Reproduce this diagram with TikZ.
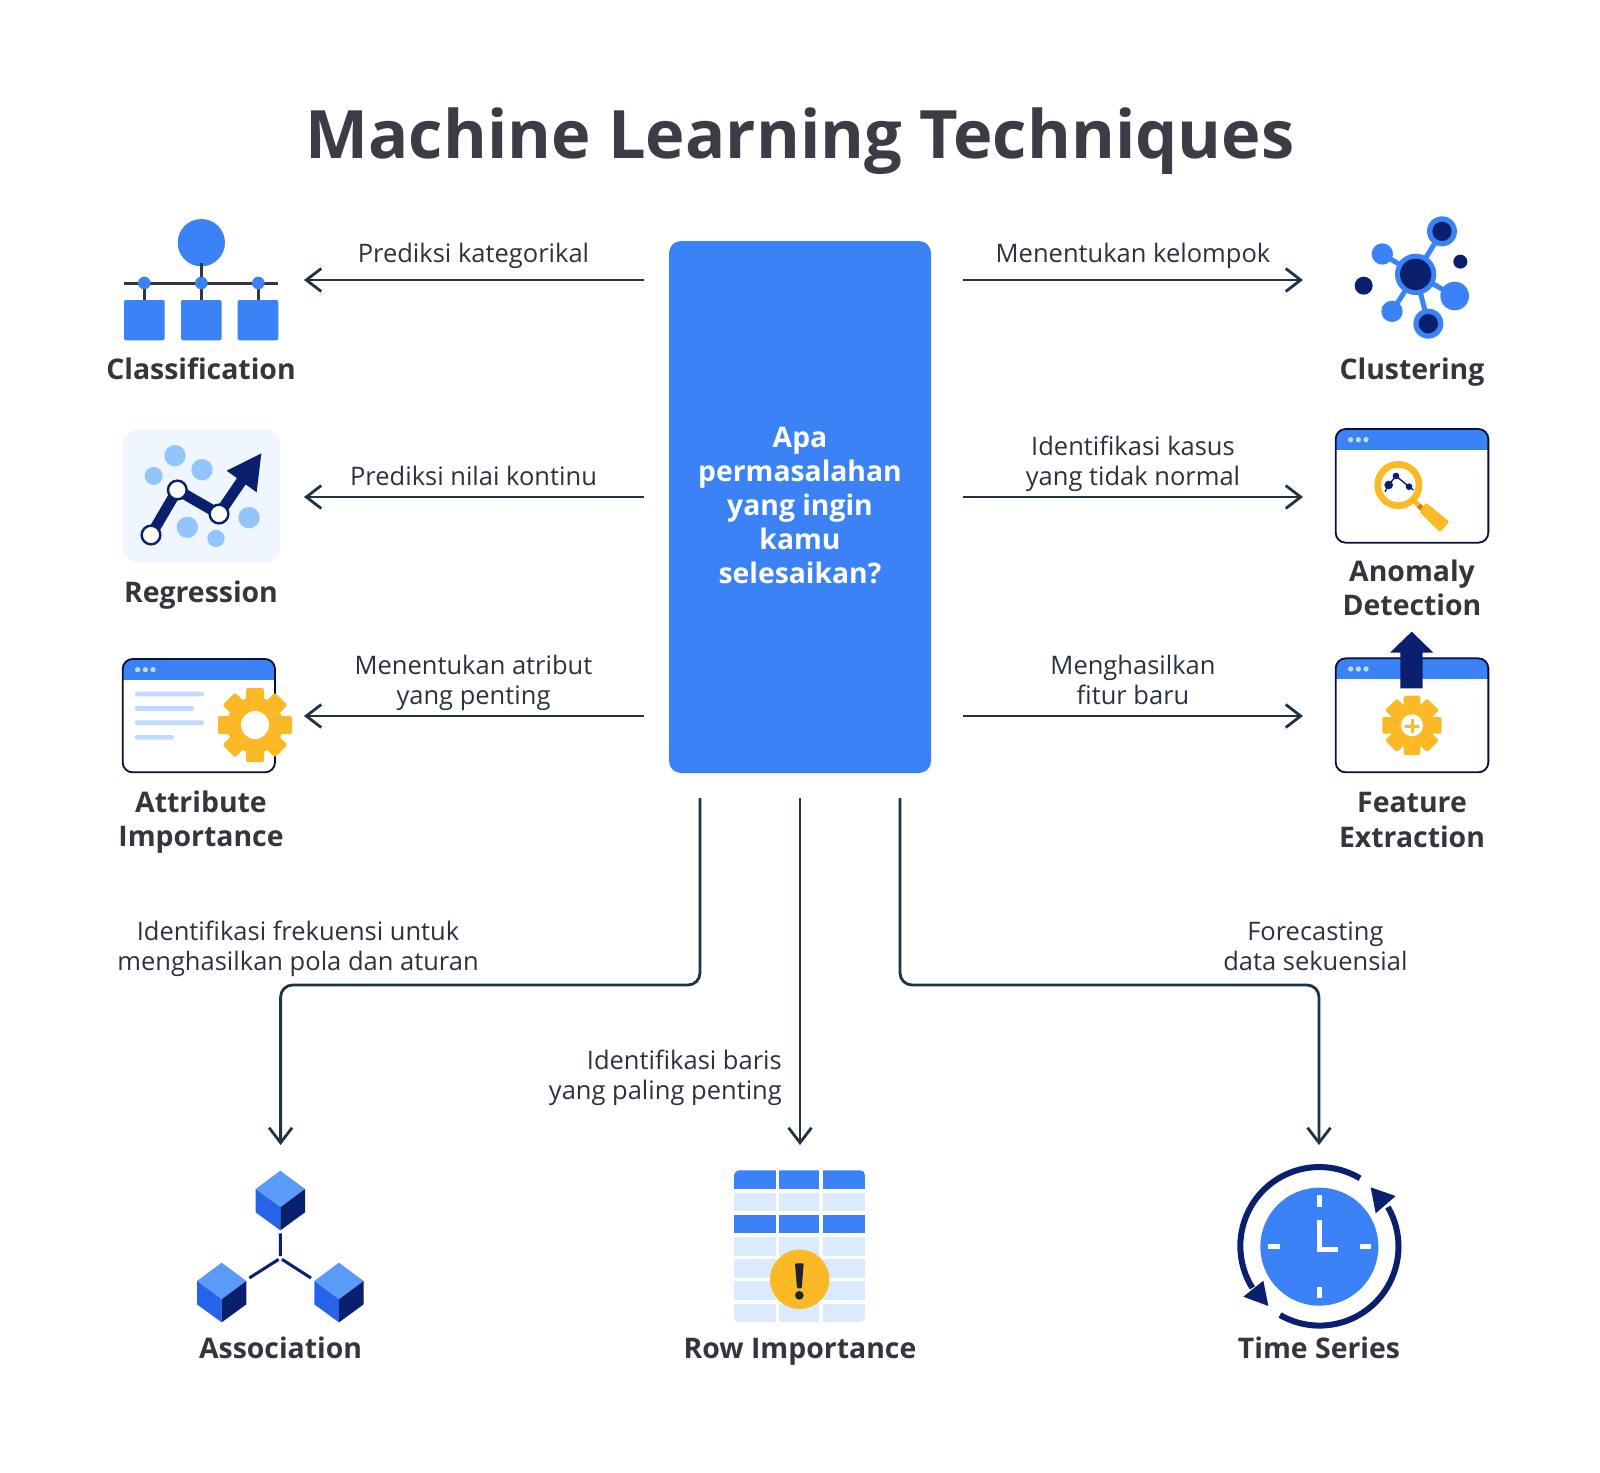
\documentclass[tikz,border=0pt]{standalone}
\usepackage{fontspec}
\setmainfont{Open Sans}
\usetikzlibrary{arrows.meta}
\definecolor{titleink}{HTML}{3A3D45}
\definecolor{labelink}{HTML}{33363D}
\definecolor{textink}{HTML}{2B3240}
\definecolor{connink}{HTML}{1F3347}
\definecolor{mainblue}{HTML}{3B82F6}
\definecolor{lightface}{HTML}{5B9BF8}
\definecolor{midface}{HTML}{2563EB}
\definecolor{navy}{HTML}{0A1F6E}
\definecolor{gearyellow}{HTML}{FBB925}
\definecolor{neckorange}{HTML}{D97706}
\definecolor{softblue}{HTML}{93C5FD}
\definecolor{paleblue}{HTML}{EFF6FF}
\definecolor{tablepale}{HTML}{DBEAFE}
\definecolor{barblue}{HTML}{BFDBFE}
\newcommand{\gearicon}[5]{
  \begin{scope}[shift={#1}]
    \fill[gearyellow] (0,0) circle[radius=#3];
    \foreach \a in {0,45,...,315}
      \fill[gearyellow,rounded corners=1.5pt,rotate=\a] (-#4,0) rectangle (#4,#2);
    \fill[white] (0,0) circle[radius=#5];
  \end{scope}
}
\newcommand{\appwindow}[4]{
  \begin{scope}
    \clip[rounded corners=10pt] (#1,#2) rectangle (#3,#4);
    \fill[white] (#1,#2) rectangle (#3,#4);
    \fill[mainblue] (#1,#2) rectangle (#3,#2+63);
  \end{scope}
  \draw[navy!50!black,line width=1.8pt,rounded corners=10pt] (#1,#2) rectangle (#3,#4);
  \foreach \d in {45,68,91}
    \fill[barblue] (#1+\d,#2+32) circle[radius=8];
}
\newcommand{\cubeicon}[2]{
  \begin{scope}[shift={(#1,#2)}]
    \fill[lightface] (301,62) -- (375,117) -- (301,172) -- (227,117) -- cycle;
    \fill[midface] (227,117) -- (301,172) -- (301,241) -- (227,187) -- cycle;
    \fill[navy] (375,117) -- (301,172) -- (301,241) -- (375,187) -- cycle;
  \end{scope}
}
\begin{document}
\begin{tikzpicture}[
    x=1pt, y=-1pt,
    zoomed/.style={shift={#1},scale=1/3},
    titletext/.style={font=\fontsize{66.8}{76}\selectfont\bfseries, text=titleink},
    techlabel/.style={align=center, inner sep=0pt, font=\fontsize{28.4}{34.2}\selectfont\bfseries, text=labelink},
    conntext/.style={align=center, inner sep=0pt, font=\fontsize{25.5}{30.2}\selectfont, text=textink},
    probbox/.style={rectangle, fill=mainblue, rounded corners=12pt, minimum width=262pt, minimum height=532pt, inner sep=0pt},
    probtext/.style={align=center, inner sep=0pt, text=white, font=\fontsize{28.3}{34}\selectfont\bfseries},
    conn/.style={draw=connink, line width=2.8pt, -{Straight Barb[length=15pt,width=23pt,line width=2.8pt]}},
    gapped/.style={shorten <=25pt}
]
\useasboundingbox (0,0) rectangle (1600,1472);
\fill[white] (0,0) rectangle (1600,1472);

\node[titletext] (title) at (800,141) {Machine Learning Techniques};
\node[probbox] (prob) at (800,507) {};
\node[probtext] (ask) at (800,505.5) {Apa\\permasalahan\\yang ingin\\kamu\\selesaikan?};

\coordinate (classend) at (304,280);
\coordinate (regrend) at (304,497);
\coordinate (attrend) at (304,716);
\coordinate (clustend) at (1303,280);
\coordinate (anomend) at (1303,497);
\coordinate (featend) at (1303,716);
\coordinate (assocbend) at (280.6,985);
\coordinate (assocend) at (280.6,1145);
\coordinate (rowend) at (800,1145);
\coordinate (timebend) at (1319,985);
\coordinate (timeend) at (1319,1145);

\draw[conn,gapped] (prob.west |- classend) -- (classend);
\draw[conn,gapped] (prob.west |- regrend) -- (regrend);
\draw[conn,gapped] (prob.west |- attrend) -- (attrend);
\draw[conn,shorten <=32pt] (prob.east |- clustend) -- (clustend);
\draw[conn,shorten <=32pt] (prob.east |- anomend) -- (anomend);
\draw[conn,shorten <=32pt] (prob.east |- featend) -- (featend);
\draw[conn,gapped,rounded corners=12pt] ([xshift=-100pt]prob.south) |- (assocbend) -- (assocend);
\draw[conn,gapped] (prob.south) -- (rowend);
\draw[conn,gapped,rounded corners=12pt] ([xshift=100pt]prob.south) |- (timebend) -- (timeend);

\node[conntext] (predcat) at (473.5,256) {Prediksi kategorikal};
\node[conntext] (prednum) at (473.5,476) {Prediksi nilai kontinu};
\node[conntext] (findattr) at (473.5,683) {Menentukan atribut\\yang penting};
\node[conntext] (findgroup) at (1133,256) {Menentukan kelompok};
\node[conntext] (findcase) at (1133,464) {Identifikasi kasus\\yang tidak normal};
\node[conntext] (makefeat) at (1133,680) {Menghasilkan\\fitur baru};
\node[conntext] (findfreq) at (298,949) {Identifikasi frekuensi untuk\\menghasilkan pola dan aturan};
\node[conntext, anchor=east, align=right] (findrow) at (782,1078) {Identifikasi baris\\yang paling penting};
\node[conntext] (forecast) at (1315.4,946) {Forecasting\\data sekuensial};

\begin{scope}[zoomed={(100,200)}]
  \fill[mainblue] (304,128) circle[radius=71];
  \draw[labelink,line width=3pt] (72,249) -- (535,249);
  \foreach \x in {133,304,475} {
    \draw[labelink,line width=3pt] (\x,249) -- (\x,310);
    \fill[mainblue] (\x,249) circle[radius=19];
  }
  \draw[labelink,line width=3pt] (304,190) -- (304,232);
  \foreach \x in {72,243,413}
    \fill[mainblue,rounded corners=2pt] (\x,300) rectangle (\x+122,421);
  \fill[paleblue,rounded corners=16pt] (68,688) rectangle (540,1088);
  \foreach \x/\y/\r in {225/767/32,161/828/27,306/809/32,262/982/32,348/1015/26,447/953/32}
    \fill[softblue] (\x,\y) circle[radius=\r];
  \draw[navy,line width=10.7pt] (153,1005) -- (232,870) -- (357,942) -- (430,835);
  \fill[navy] (484,760) -- (380,812) -- (470,877) -- cycle;
  \foreach \x/\y in {153/1005,232/870,357/942}
    \draw[navy,fill=white,line width=2.4pt] (\x,\y) circle[radius=28];
\end{scope}
\node[techlabel] (classlabel) at (201,369) {Classification};
\node[techlabel] (regrlabel) at (201,595) {Regression};

\begin{scope}[zoomed={(100,640)}]
  \appwindow{68}{57}{525}{397}
  \foreach \e/\y in {312/162,282/205.5,312/248,222/292}
    \fill[barblue,rounded corners=1.5pt] (105,\y-7) rectangle (\e,\y+7);
  \gearicon{(465,255)}{111}{84}{27}{42}
\end{scope}
\node[techlabel] (attrlabel) at (201,822) {Attribute\\Importance};

\begin{scope}[zoomed={(1320,200)}]
  \foreach \x/\y in {366/94,187/162,404/288,216/334,325/371}
    \draw[mainblue,line width=5pt] (287,223) -- (\x,\y);
  \fill[mainblue] (287,223) circle[radius=62];
  \fill[navy] (287,223) circle[radius=47];
  \fill[mainblue] (366,94) circle[radius=45];
  \fill[navy] (366,94) circle[radius=29];
  \fill[mainblue] (325,371) circle[radius=45];
  \fill[navy] (325,371) circle[radius=29];
  \fill[mainblue] (187,162) circle[radius=32];
  \fill[mainblue] (216,334) circle[radius=32];
  \fill[mainblue] (404,288) circle[radius=43];
  \fill[navy] (131,257) circle[radius=27];
  \fill[navy] (421,185) circle[radius=21];

  \appwindow{47}{687}{505}{1028}
  \draw[navy,line width=1.4pt] (195,875) -- (206,855) -- (228,828) -- (267,860) -- (280,870);
  \foreach \x/\y/\r in {206/855/13,228/828/10,267/860/10}
    \fill[navy] (\x,\y) circle[radius=\r];
  \draw[gearyellow,line width=6.7pt] (235,855) circle[radius=62];
  \draw[gearyellow,line width=5pt] (278,898) -- (298,918);
  \draw[neckorange,line width=5pt] (296,916) -- (314,934);
  \fill[gearyellow,rounded corners=1.5pt] (318,908) -- (388,965) -- (360,997) -- (298,935) -- cycle;
\end{scope}
\node[techlabel] (clustlabel) at (1412,372) {Clustering};
\node[techlabel] (anomlabel) at (1412,588) {Anomaly\\Detection};

\begin{scope}[zoomed={(1320,620)}]
  \appwindow{47}{115}{505}{457}
  \fill[navy] (241,205) -- (241,98) -- (210,98) -- (275,35) -- (340,98) -- (308,98) -- (308,205) -- cycle;
  \gearicon{(276,316)}{89}{68}{25}{33}
  \draw[gearyellow,line width=3pt] (256,318) -- (296,318) (276,298) -- (276,338);
\end{scope}
\node[techlabel] (featlabel) at (1412,820) {Feature\\Extraction};

\begin{scope}[zoomed={(180,1150)}]
  \cubeicon{0}{0}
  \cubeicon{-176}{276}
  \cubeicon{176}{276}
  \draw[navy,line width=3pt] (301,250) -- (301,318) (208,384) -- (296,328) (393,384) -- (306,328);
\end{scope}
\node[techlabel] (assoclabel) at (280.6,1348) {Association};

\begin{scope}[zoomed={(720,1160)}]
  \begin{scope}
    \clip[rounded corners=5pt] (42,31) rectangle (436,486);
    \foreach \ya/\yb/\c in {31/88/mainblue,98/153/tablepale,165/220/mainblue,231/287/tablepale,297/353/tablepale,364/420/tablepale,431/486/tablepale}
      \foreach \xa/\xb in {42/167,178/298,309/436}
        \fill[\c] (\xa,\ya) rectangle (\xb,\yb);
  \end{scope}
  \fill[gearyellow] (239,358) circle[radius=89];
  \fill[textink!70!black,rounded corners=1pt] (225,310) -- (251,310) -- (245,385) -- (231,385) -- cycle;
  \fill[textink!70!black] (238,406) circle[radius=13];
\end{scope}
\node[techlabel] (rowlabel) at (800,1352) {Row Importance};

\begin{scope}[zoomed={(1220,1150)}]
  \fill[mainblue] (298,290) circle[radius=177];
  \draw[white,line width=5.3pt] (298,136) -- (298,170) (298,410) -- (298,444) (145,290) -- (179,290) (419,290) -- (453,290);
  \draw[white,line width=5.3pt] (298,210) -- (298,298) -- (353,298);
  \draw[navy,line width=6pt] (420,85) arc[start angle=-59,end angle=-212,radius=237];
  \fill[navy] (70,440) -- (145,468) -- (130,392) -- cycle;
  \draw[navy,line width=6pt] (180,495) arc[start angle=120,end angle=-30,radius=237];
  \fill[navy] (452,112) -- (527,138) -- (467,190) -- cycle;
\end{scope}
\node[techlabel] (timelabel) at (1319,1348) {Time Series};
\end{tikzpicture}
\end{document}
